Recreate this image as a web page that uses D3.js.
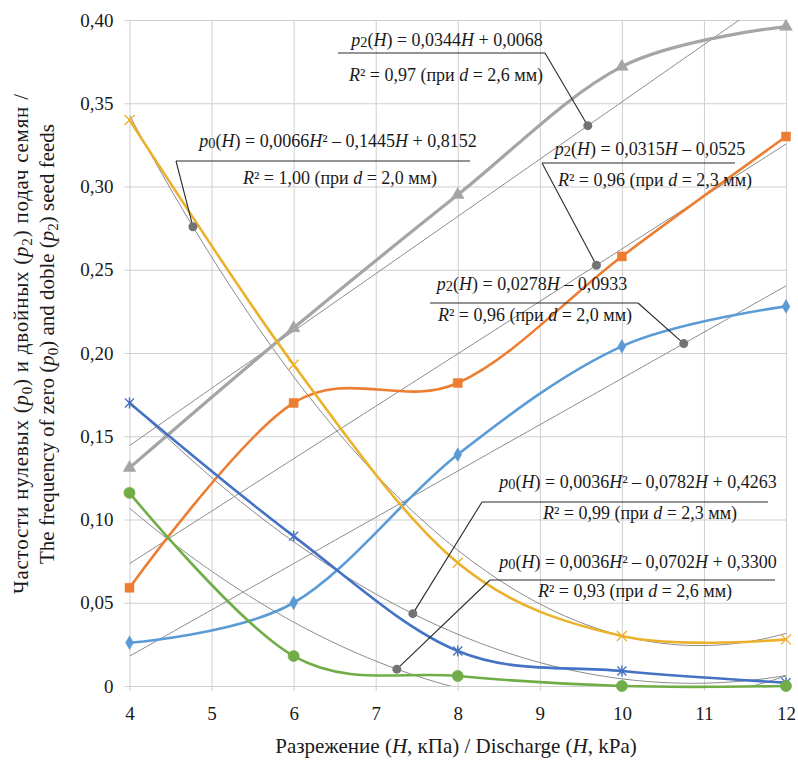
<!DOCTYPE html>
<html><head><meta charset="utf-8">
<script src="https://cdn.jsdelivr.net/npm/d3@7"></script>
<style>
body{margin:0;background:#fff}
svg{display:block}
</style>
</head><body>
<svg id="c" width="798" height="760"></svg>
<script>
// ---------------- DATA ----------------
const H = [4, 6, 8, 10, 12];
const xTicks = [4, 5, 6, 7, 8, 9, 10, 11, 12];
const xTickLabels = ["4", "5", "6", "7", "8", "9", "10", "11", "12"];
const yTicks = [0, 0.05, 0.10, 0.15, 0.20, 0.25, 0.30, 0.35, 0.40];
const yTickLabels = ["0", "0,05", "0,10", "0,15", "0,20", "0,25", "0,30", "0,35", "0,40"];

// p2 (double feeds)
const p2_d26 = [0.131, 0.215, 0.295, 0.372, 0.396];
const p2_d23 = [0.059, 0.170, 0.182, 0.258, 0.330];
const p2_d20 = [0.026, 0.050, 0.139, 0.204, 0.228];
// p0 (zero feeds)
const p0_d20 = [0.340, 0.193, 0.074, 0.030, 0.028];
const p0_d23 = [0.170, 0.090, 0.021, 0.009, 0.002];
const p0_d26 = [0.116, 0.018, 0.006, 0.000, 0.000];

// trend coefficients [a2, a1, a0]
const trend_p2_d26 = [0, 0.0344, 0.0068];
const trend_p2_d23 = [0, 0.0315, -0.0525];
const trend_p2_d20 = [0, 0.0278, -0.0933];
const trend_p0_d20 = [0.0066, -0.1445, 0.8152];
const trend_p0_d23 = [0.0036, -0.0782, 0.4263];
const trend_p0_d26 = [0.0036, -0.0702, 0.3300];

// annotation texts
const eqTexts = [
  "*p*_2(*H*) = 0,0344*H* + 0,0068",
  "*p*_0(*H*) = 0,0066*H*² – 0,1445*H* + 0,8152",
  "*p*_2(*H*) = 0,0315*H* – 0,0525",
  "*p*_2(*H*)  = 0,0278*H* – 0,0933",
  "*p*_0(*H*) = 0,0036*H*² – 0,0782*H* + 0,4263",
  "*p*_0(*H*) = 0,0036*H*² – 0,0702*H* + 0,3300"
];
const r2Texts = [
  "*R*² = 0,97 (при *d* = 2,6 мм)",
  "*R*² = 1,00 (при *d* = 2,0 мм)",
  "*R*² = 0,96 (при *d* = 2,3 мм)",
  "*R*² = 0,96 (при *d* = 2,0 мм)",
  "*R*² = 0,99 (при *d* = 2,3 мм)",
  "*R*² = 0,93 (при *d* = 2,6 мм)"
];
const yTitle1 = "Частости нулевых (*p*__0)  и двойных (*p*__2) подач семян /";
const yTitle2 = "The frequency of zero (*p*__0) and doble (*p*__2) seed feeds";
const xTitle = "Разрежение (*H*, кПа) / Discharge (*H*, kPa)";

// ---------------- LAYOUT / STYLE ----------------
const FONT = "'Liberation Serif', 'Times New Roman', Times, Tinos, 'Nimbus Roman', 'Noto Serif', 'DejaVu Serif', serif";
const plot = {l: 129.5, r: 786, t: 20, b: 686};
const svg = d3.select("#c");
const x = d3.scaleLinear().domain([4, 12]).range([plot.l, plot.r]);
const y = d3.scaleLinear().domain([0, 0.4]).range([plot.b, plot.t]);

const gridColor = "#cfcfcf";
const trendColor = "#8a8a8a";
const textColor = "#1a1a1a";

// rich-text helper: *italic*, _x small index, __x subscript
function rich(sel, str, subShift, smallShift) {
  sel.style("font-family", FONT).attr("fill", textColor);
  const parts = str.split(/(\*[^*]+\*|__[0-9]|_[0-9])/g).filter(s => s.length);
  let pending = 0;
  parts.forEach(s => {
    let t;
    if (s.startsWith("__")) {
      t = sel.append("tspan").attr("font-size", "0.72em").text(s.slice(2));
      t.attr("dy", pending + subShift); pending = -subShift; return;
    } else if (s.startsWith("_")) {
      t = sel.append("tspan").attr("font-size", "0.8em").text(s.slice(1));
      t.attr("dy", pending + smallShift); pending = -smallShift; return;
    } else if (s.startsWith("*")) {
      t = sel.append("tspan").attr("font-style", "italic").text(s.slice(1, -1));
    } else {
      t = sel.append("tspan").text(s);
    }
    if (pending) { t.attr("dy", pending); pending = 0; }
  });
  return sel;
}

// ---------------- GRID & AXES ----------------
const gBottom = svg.append("g").attr("transform", `translate(0,${plot.b + 5})`)
  .call(d3.axisBottom(x).tickValues(xTicks).tickFormat((d, i) => xTickLabels[i])
    .tickSize(-(plot.b + 5 - plot.t)).tickPadding(16));
const gLeft = svg.append("g").attr("transform", `translate(${plot.l - 5},0)`)
  .call(d3.axisLeft(y).tickValues(yTicks).tickFormat((d, i) => yTickLabels[i])
    .tickSize(-(plot.r - plot.l + 5)).tickPadding(11));
[gBottom, gLeft].forEach(g => {
  g.select(".domain").remove();
  g.selectAll(".tick line").attr("stroke", gridColor).attr("stroke-width", 1);
  g.selectAll(".tick text").attr("font-size", 19).style("font-family", FONT).attr("fill", textColor);
});

// clip
svg.append("clipPath").attr("id", "clip").append("rect")
  .attr("x", plot.l).attr("y", plot.t).attr("width", plot.r - plot.l).attr("height", plot.b - plot.t);

// ---------------- TREND LINES ----------------
const trends = [trend_p2_d26, trend_p2_d23, trend_p2_d20, trend_p0_d20, trend_p0_d23, trend_p0_d26];
const f = (c, h) => c[0] * h * h + c[1] * h + c[2];
const hs = d3.range(4, 12.0001, 0.05);
const tLine = d3.line().x(d => x(d[0])).y(d => y(d[1]));
const gTrend = svg.append("g").attr("clip-path", "url(#clip)");
trends.forEach(c => {
  gTrend.append("path").attr("d", tLine(hs.map(h => [h, f(c, h)])))
    .attr("fill", "none").attr("stroke", trendColor).attr("stroke-width", 1);
});

// ---------------- SERIES ----------------
const series = [
  {v: p2_d26, color: "#a5a5a5", marker: "triangle", w: 3.2},
  {v: p2_d23, color: "#ed7d31", marker: "square", w: 2.6},
  {v: p2_d20, color: "#5b9bd5", marker: "diamond", w: 2.6},
  {v: p0_d20, color: "#ebb12b", marker: "x", w: 2.6},
  {v: p0_d23, color: "#4472c4", marker: "star", w: 2.6},
  {v: p0_d26, color: "#70ad47", marker: "circle", w: 2.6}
];
const sLine = d3.line().x(d => x(d[0])).y(d => y(d[1])).curve(d3.curveCardinal.tension(0));
const gSer = svg.append("g");
series.forEach(s => {
  gSer.append("path").attr("d", sLine(H.map((h, i) => [h, s.v[i]])))
    .attr("fill", "none").attr("stroke", s.color).attr("stroke-width", s.w)
    .attr("stroke-linejoin", "round").attr("stroke-linecap", "round");
});
const markerDefs = {
  triangle: {d: d3.symbol(d3.symbolTriangle, 70)(), fill: true},
  square: {d: d3.symbol(d3.symbolSquare, 81)(), fill: true},
  diamond: {d: d3.symbol(d3.symbolDiamond, 55)(), fill: true},
  circle: {d: d3.symbol(d3.symbolCircle, 100)(), fill: true},
  x: {d: "M-5,-5L5,5M-5,5L5,-5", fill: false},
  star: {d: "M-4.5,-4.5L4.5,4.5M-4.5,4.5L4.5,-4.5M0,-5.5L0,5.5", fill: false}
};
series.forEach(s => {
  const m = markerDefs[s.marker];
  gSer.append("g").selectAll("path").data(H.map((h, i) => [h, s.v[i]])).join("path")
    .attr("transform", d => `translate(${x(d[0])},${y(d[1])})`)
    .attr("d", m.d)
    .attr("fill", m.fill ? s.color : "none")
    .attr("stroke", s.color)
    .attr("stroke-width", m.fill ? 0.5 : 1.4);
});

// ---------------- ANNOTATIONS ----------------
// [trend, dotH, eqCx, eqY, ulX1, ulX2, ulY, r2Cx, r2Y, leaderFrom ("l"|"r")]
const annLayout = [
  [trend_p2_d26, 9.585, 447, 46, 338, 545, 53, 446, 81, "r"],
  [trend_p0_d20, 4.773, 338, 147, 176, 470, 161, 340, 184, "l"],
  [trend_p2_d23, 9.69, 650, 155, 542, 735, 163, 655, 186, "l"],
  [trend_p2_d20, 10.754, 532, 290, 430, 638, 303, 535, 321, "r"],
  [trend_p0_d23, 7.453, 638, 488, 482, 768, 502, 640, 519, "l"],
  [trend_p0_d26, 7.258, 638, 568, 490, 775, 580, 635, 597, "l"]
];
const gAnn = svg.append("g");
annLayout.forEach((a, i) => {
  const [c, dh, ecx, ey, u1, u2, uy, rcx, ry, side] = a;
  const dx = x(dh), dy = y(f(c, dh));
  const lx = side === "l" ? u1 : u2;
  gAnn.append("line").attr("x1", u1).attr("x2", u2).attr("y1", uy).attr("y2", uy)
    .attr("stroke", "#2a2a2a").attr("stroke-width", 1.2);
  gAnn.append("line").attr("x1", lx).attr("y1", uy).attr("x2", dx).attr("y2", dy)
    .attr("stroke", "#2a2a2a").attr("stroke-width", 1.1);
  gAnn.append("circle").attr("cx", dx).attr("cy", dy).attr("r", 4.5).attr("fill", "#737373");
  rich(gAnn.append("text").attr("x", ecx).attr("y", ey).attr("text-anchor", "middle")
    .attr("font-size", 18), eqTexts[i], 4, 1);
  rich(gAnn.append("text").attr("x", rcx).attr("y", ry).attr("text-anchor", "middle")
    .attr("font-size", 18), r2Texts[i], 4, 1);
});

// ---------------- AXIS TITLES ----------------
rich(svg.append("text").attr("transform", "translate(28,344) rotate(-90)")
  .attr("text-anchor", "middle").attr("font-size", 21)
  .attr("textLength", 500).attr("lengthAdjust", "spacing"), yTitle1, 4, 1);
rich(svg.append("text").attr("transform", "translate(54,344) rotate(-90)")
  .attr("text-anchor", "middle").attr("font-size", 21)
  .attr("textLength", 440).attr("lengthAdjust", "spacing"), yTitle2, 4, 1);
rich(svg.append("text").attr("x", 456).attr("y", 753).attr("text-anchor", "middle")
  .attr("font-size", 21), xTitle, 4, 1);
</script>
</body></html>
